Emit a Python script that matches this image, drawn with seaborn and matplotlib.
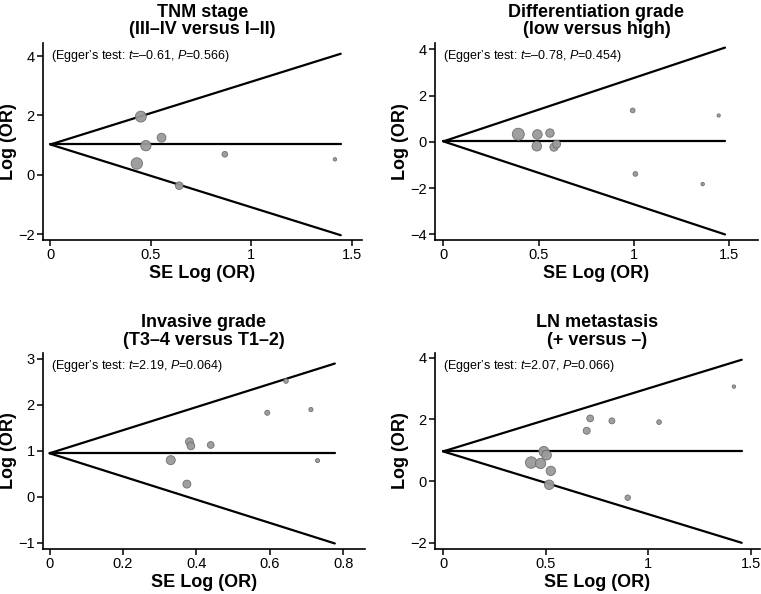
import numpy as np
import pandas as pd
import matplotlib
matplotlib.use("Agg")
import matplotlib.pyplot as plt
import seaborn as sns

# panel titles and Egger's test results
titles = ["TNM stage\n(III\u2013IV versus I\u2013II)",
          "Differentiation grade\n(low versus high)",
          "Invasive grade\n(T3\u20134 versus T1\u20132)",
          "LN metastasis\n(+ versus \u2013)"]
egger_t = ["\u20130.61", "\u20130.78", "2.19", "2.07"]
egger_p = ["0.566", "0.454", "0.064", "0.066"]

# studies: SE of log(OR) and log(OR)
tnm_se = [0.450, 0.553, 0.475, 0.430, 0.641, 0.868, 1.416]
tnm_lor = [1.96, 1.25, 0.98, 0.38, -0.37, 0.69, 0.52]

diff_se = [0.393, 0.493, 0.490, 0.559, 0.580, 0.594, 0.993, 1.007, 1.360, 1.444]
diff_lor = [0.33, 0.32, -0.19, 0.38, -0.23, -0.10, 1.36, -1.39, -1.83, 1.14]

inv_se = [0.644, 0.712, 0.593, 0.381, 0.385, 0.439, 0.330, 0.374, 0.730]
inv_lor = [2.52, 1.90, 1.83, 1.20, 1.11, 1.13, 0.80, 0.28, 0.79]

ln_se = [1.418, 0.717, 0.823, 1.053, 0.700, 0.491, 0.504, 0.429, 0.475, 0.525, 0.517, 0.900]
ln_lor = [3.06, 2.03, 1.95, 1.91, 1.63, 0.96, 0.84, 0.60, 0.57, 0.33, -0.12, -0.54]

# pooled log(OR) and pseudo 95% CI funnel ends
pooled = [1.02, 0.02, 0.95, 0.96]
funnel_se = [1.445, 1.477, 0.777, 1.456]
funnel_hi = [4.08, 4.08, 2.90, 3.93]
funnel_lo = [-2.04, -4.01, -1.01, -2.00]

x_ticks = [[0, 0.5, 1, 1.5], [0, 0.5, 1, 1.5], [0, 0.2, 0.4, 0.6, 0.8], [0, 0.5, 1, 1.5]]
x_labels = [["0", "0.5", "1", "1.5"], ["0", "0.5", "1", "1.5"],
            ["0", "0.2", "0.4", "0.6", "0.8"], ["0", "0.5", "1", "1.5"]]
y_ticks = [[-2, 0, 2, 4], [-4, -2, 0, 2, 4], [-1, 0, 1, 2, 3], [-2, 0, 2, 4]]

se_all = [tnm_se, diff_se, inv_se, ln_se]
lor_all = [tnm_lor, diff_lor, inv_lor, ln_lor]

sns.set_theme(style="ticks")
plt.rcParams["font.family"] = ["Liberation Sans", "DejaVu Sans"]
plt.rcParams["mathtext.fontset"] = "custom"
plt.rcParams["mathtext.rm"] = "Liberation Sans"
plt.rcParams["mathtext.it"] = "Liberation Sans:italic"
plt.rcParams["text.color"] = "black"
plt.rcParams["axes.labelcolor"] = "black"

fig = plt.figure(figsize=(7.61, 5.94), dpi=100)
boxes = [[0.0565, 0.596, 0.419, 0.332], [0.5716, 0.596, 0.4244, 0.332],
         [0.0565, 0.0758, 0.423, 0.330], [0.5716, 0.0758, 0.427, 0.330]]
xlims = [(-0.037, 1.55), (-0.044, 1.65), (-0.018, 0.859), (-0.04, 1.545)]
ylims = [(-2.2, 4.45), (-4.25, 4.29), (-1.13, 3.13), (-2.2, 4.15)]
marker_scale = [12.5, 11.5, 4.6, 12.5]

for i in range(4):
    ax = fig.add_axes(boxes[i])
    se = np.array(se_all[i])
    df = pd.DataFrame({"se": se, "lor": lor_all[i]})
    # funnel lines
    ax.plot([0, funnel_se[i]], [pooled[i], funnel_hi[i]], color="black", lw=1.6)
    ax.plot([0, funnel_se[i]], [pooled[i], funnel_lo[i]], color="black", lw=1.6)
    ax.plot([0, funnel_se[i]], [pooled[i], pooled[i]], color="black", lw=1.6)
    # marker area proportional to study weight 1/SE^2
    sns.scatterplot(data=df, x="se", y="lor", ax=ax, s=marker_scale[i] / se**2,
                    color="#9a9a9a", edgecolor="#6a6a6a", linewidth=0.6,
                    alpha=0.95, zorder=3, legend=False)
    ax.set_xlim(xlims[i])
    ax.set_ylim(ylims[i])
    ax.set_xticks(x_ticks[i])
    ax.set_xticklabels(x_labels[i])
    ax.set_yticks(y_ticks[i])
    ax.tick_params(labelsize=10.5, length=4, width=1.1, pad=2, colors="black")
    for s in ["left", "bottom"]:
        ax.spines[s].set_linewidth(1.2)
        ax.spines[s].set_color("black")
    sns.despine(ax=ax)
    ax.set_xlabel("SE Log (OR)", fontsize=13, fontweight="bold", labelpad=2)
    ax.set_ylabel("Log (OR)", fontsize=13, fontweight="bold", labelpad=1)
    ax.set_title(titles[i], fontsize=13, fontweight="bold", linespacing=1.05, pad=6)
    ax.text(0.025, 0.975,
            "(Egger\u2019s test: $\\it{t}$=" + egger_t[i] + ", $\\it{P}$=" + egger_p[i] + ")",
            transform=ax.transAxes, ha="left", va="top", fontsize=9)

fig.savefig("out.png", dpi=100)
